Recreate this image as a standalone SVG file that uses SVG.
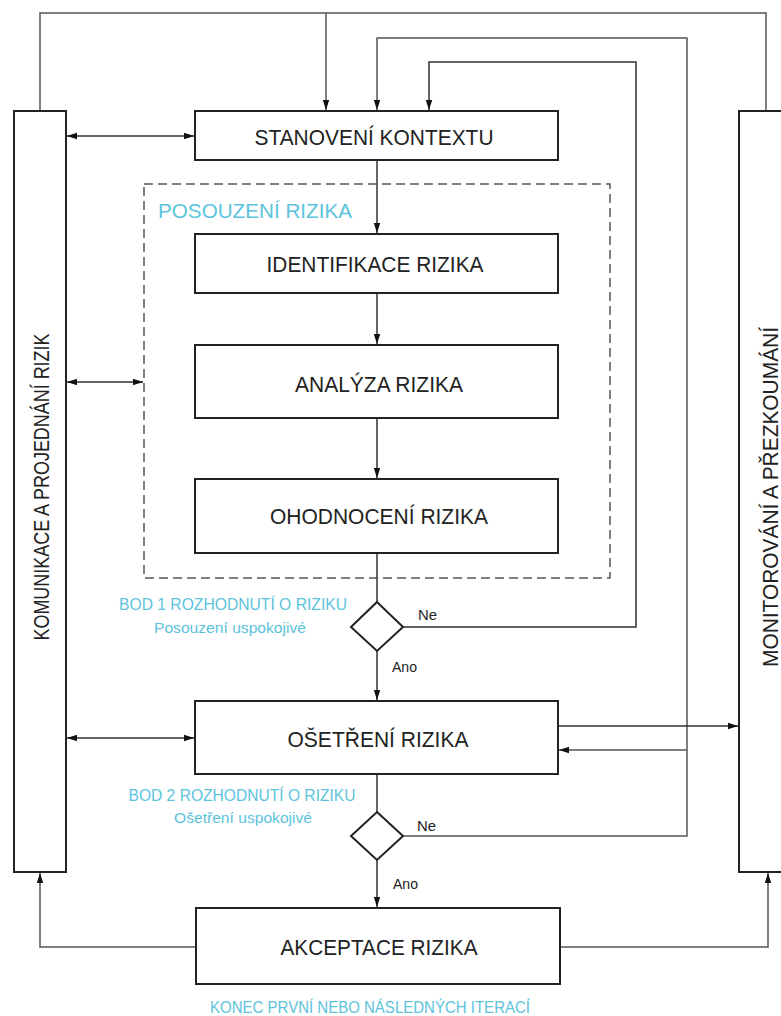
<svg xmlns="http://www.w3.org/2000/svg" width="781" height="1016" viewBox="0 0 781 1016">
<style>
.box{fill:#fff;stroke:#222;stroke-width:2}
.t{font-family:"Liberation Sans",Arial,sans-serif;font-size:22px;fill:#222;text-anchor:middle}
.b{font-family:"Liberation Sans",Arial,sans-serif;fill:#5cc3dc}
.s{font-family:"Liberation Sans",Arial,sans-serif;font-size:14px;fill:#222}
.ln{fill:none;stroke:#333;stroke-width:1.5}
.lg{fill:none;stroke:#555;stroke-width:1.5}
</style>
<defs>
<marker id="ah" viewBox="0 0 10 10" refX="10" refY="5" markerWidth="11" markerHeight="10" markerUnits="userSpaceOnUse" orient="auto-start-reverse">
<path d="M0,1.8 L10,5 L0,8.2 z" fill="#111"/>
</marker>
</defs>
<rect width="781" height="1016" fill="#fff"/>
<g id="connectors">
<path class="lg" d="M40,111 V13 H766 V111"/>
<path class="lg" d="M326,13 V110" marker-end="url(#ah)"/>
<path class="lg" d="M403,836 H687 V38 H377 V110" marker-end="url(#ah)"/>
<path class="lg" d="M687,750 H559" marker-end="url(#ah)"/>
<path class="ln" d="M558,726 H738" marker-end="url(#ah)"/>
<path class="ln" d="M403,627 H636 V62 H429 V110" marker-end="url(#ah)"/>
<path class="ln" d="M377,160 V233" marker-end="url(#ah)"/>
<path class="ln" d="M377,293 V344" marker-end="url(#ah)"/>
<path class="ln" d="M377,418 V478" marker-end="url(#ah)"/>
<path class="ln" d="M377,553 V602"/>
<path class="ln" d="M377,651 V700" marker-end="url(#ah)"/>
<path class="ln" d="M377,774 V812"/>
<path class="ln" d="M377,860 V907" marker-end="url(#ah)"/>
<path class="ln" d="M67,136 H194" marker-start="url(#ah)" marker-end="url(#ah)"/>
<path class="ln" d="M67,382 H143" marker-start="url(#ah)" marker-end="url(#ah)"/>
<path class="ln" d="M67,738 H194" marker-start="url(#ah)" marker-end="url(#ah)"/>
<path class="lg" d="M196,947 H40 V873" marker-end="url(#ah)"/>
<path class="lg" d="M560,947 H768 V873" marker-end="url(#ah)"/>
</g>
<g id="posouzeni">
<rect x="144" y="184" width="466" height="394" fill="none" stroke="#555" stroke-width="1.5" stroke-dasharray="9,5"/>
<text class="b" x="158" y="218" font-size="21" textLength="194" lengthAdjust="spacingAndGlyphs">POSOUZENÍ RIZIKA</text>
</g>
<g id="komunikace">
<rect class="box" x="14" y="111" width="52" height="761"/>
<text class="t" transform="translate(49,487) rotate(-90)" font-size="23" textLength="307" lengthAdjust="spacingAndGlyphs">KOMUNIKACE A PROJEDNÁNÍ RIZIK</text>
</g>
<g id="monitorovani">
<rect class="box" x="739" y="111" width="60" height="761"/>
<text class="t" transform="translate(778,497) rotate(-90)" font-size="23" textLength="340" lengthAdjust="spacingAndGlyphs">MONITOROVÁNÍ A PŘEZKOUMÁNÍ</text>
</g>
<g id="stanoveni">
<rect class="box" x="195" y="111" width="363" height="49"/>
<text class="t" x="374" y="145" textLength="239" lengthAdjust="spacingAndGlyphs">STANOVENÍ KONTEXTU</text>
</g>
<g id="identifikace">
<rect class="box" x="195" y="234" width="363" height="59"/>
<text class="t" x="375" y="272" textLength="217" lengthAdjust="spacingAndGlyphs">IDENTIFIKACE RIZIKA</text>
</g>
<g id="analyza">
<rect class="box" x="195" y="345" width="363" height="73"/>
<text class="t" x="379" y="392" textLength="168" lengthAdjust="spacingAndGlyphs">ANALÝZA RIZIKA</text>
</g>
<g id="ohodnoceni">
<rect class="box" x="195" y="479" width="363" height="74"/>
<text class="t" x="379" y="524" textLength="218" lengthAdjust="spacingAndGlyphs">OHODNOCENÍ RIZIKA</text>
</g>
<g id="bod1">
<path d="M377,602 L403,627 L377,651 L351,627 z" fill="#fff" stroke="#222" stroke-width="2"/>
<text class="b" x="233" y="610" font-size="17" text-anchor="middle" textLength="228" lengthAdjust="spacingAndGlyphs">BOD 1 ROZHODNUTÍ O RIZIKU</text>
<text class="b" x="230" y="633" font-size="15" text-anchor="middle" textLength="152" lengthAdjust="spacingAndGlyphs">Posouzení uspokojivé</text>
<text class="s" x="418" y="620" textLength="19" lengthAdjust="spacingAndGlyphs">Ne</text>
<text class="s" x="392" y="672" textLength="25" lengthAdjust="spacingAndGlyphs">Ano</text>
</g>
<g id="osetreni">
<rect class="box" x="195" y="701" width="363" height="73"/>
<text class="t" x="378" y="747" textLength="181" lengthAdjust="spacingAndGlyphs">OŠETŘENÍ RIZIKA</text>
</g>
<g id="bod2">
<path d="M377,812 L403,836 L377,860 L351,836 z" fill="#fff" stroke="#222" stroke-width="2"/>
<text class="b" x="242" y="801" font-size="17" text-anchor="middle" textLength="227" lengthAdjust="spacingAndGlyphs">BOD 2 ROZHODNUTÍ O RIZIKU</text>
<text class="b" x="243" y="823" font-size="15" text-anchor="middle" textLength="138" lengthAdjust="spacingAndGlyphs">Ošetření uspokojivé</text>
<text class="s" x="417" y="831" textLength="19" lengthAdjust="spacingAndGlyphs">Ne</text>
<text class="s" x="393" y="889" textLength="25" lengthAdjust="spacingAndGlyphs">Ano</text>
</g>
<g id="akceptace">
<rect class="box" x="196" y="908" width="364" height="76"/>
<text class="t" x="379" y="955" textLength="197" lengthAdjust="spacingAndGlyphs">AKCEPTACE RIZIKA</text>
<text class="b" x="370" y="1013" font-size="17" text-anchor="middle" textLength="320" lengthAdjust="spacingAndGlyphs">KONEC PRVNÍ NEBO NÁSLEDNÝCH ITERACÍ</text>
</g>
</svg>
